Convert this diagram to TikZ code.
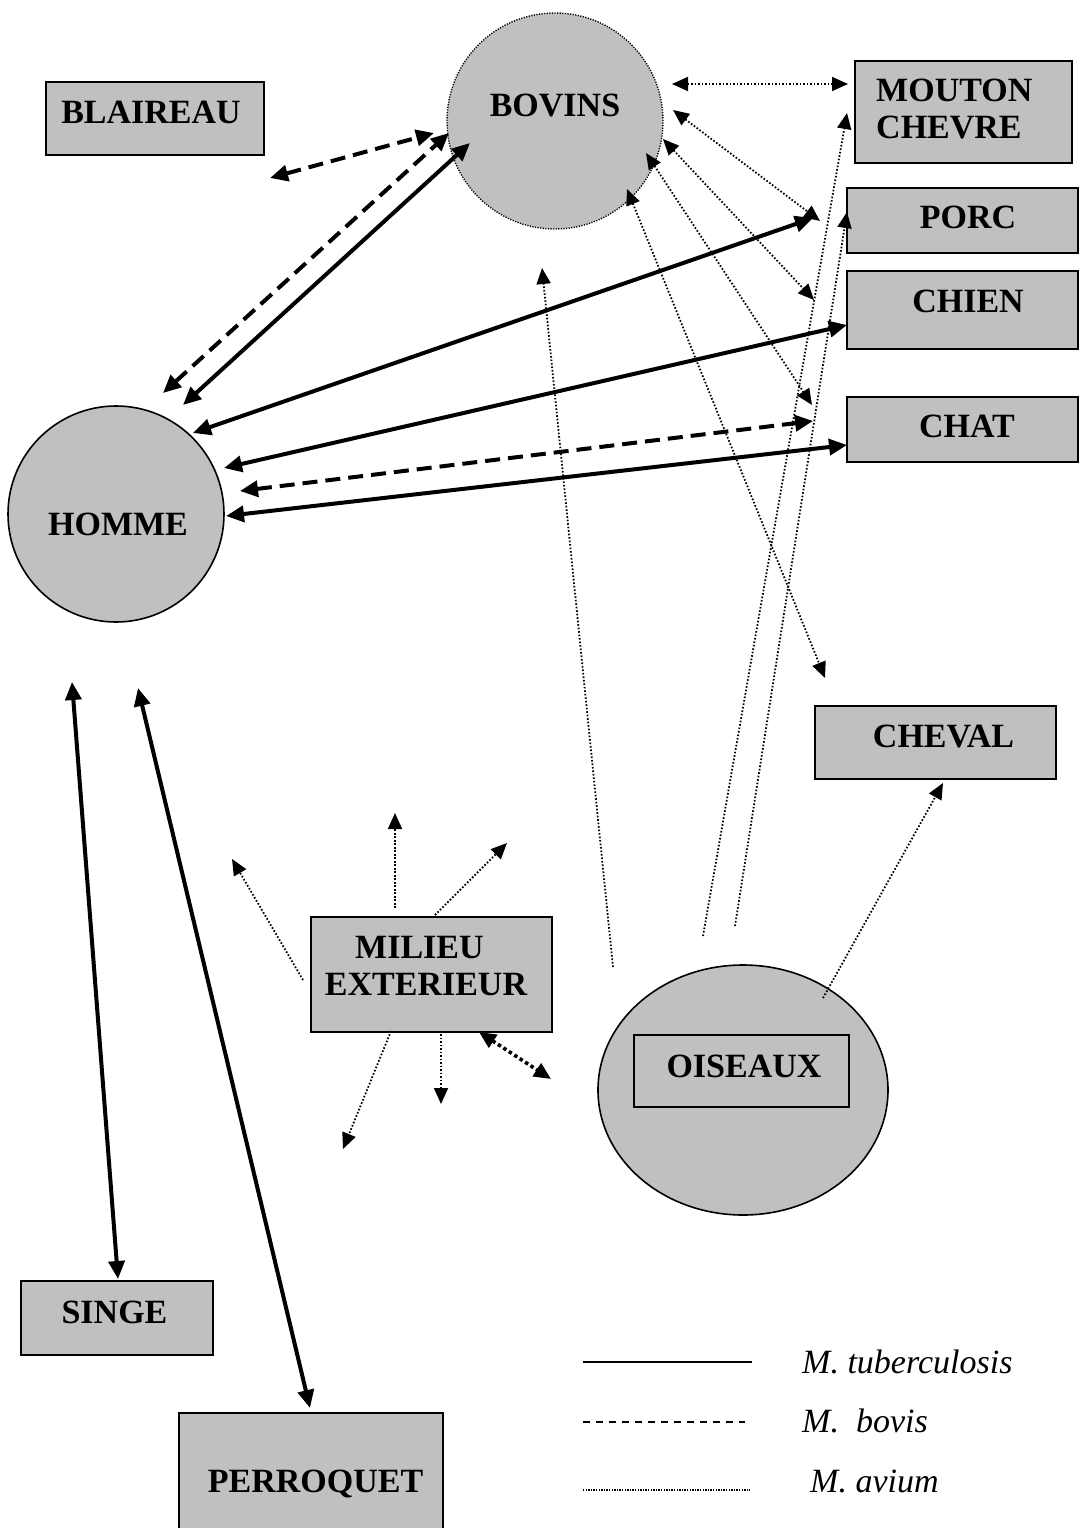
\documentclass[tikz,border=0pt]{standalone}
\usepackage{fontspec}
\setmainfont{Liberation Serif}
\usetikzlibrary{arrows.meta,shapes.geometric}
\definecolor{boxgray}{HTML}{C0C0C0}
\begin{document}
\begin{tikzpicture}[x=1pt,y=-1pt,
  box/.style={draw=black, line width=1.6pt, fill=boxgray, rectangle, inner sep=0pt, outer sep=0pt},
  lbl/.style={font=\fontsize{34}{38}\selectfont\bfseries, inner sep=0pt, anchor=base},
  lgd/.style={font=\fontsize{34}{38}\selectfont\itshape, inner sep=0pt, anchor=base west},
  tuber/.style={line width=4pt, {Triangle[length=18pt,width=16pt]}-{Triangle[length=18pt,width=16pt]}},
  bovis/.style={line width=4pt, dash pattern=on 15pt off 8pt, {Triangle[length=18pt,width=16pt]}-{Triangle[length=18pt,width=16pt]}},
  avium/.style={line width=1.8pt, dash pattern=on 1.6pt off 1.9pt},
  both/.style={{Triangle[length=16pt,width=14pt]}-{Triangle[length=16pt,width=14pt]}},
  fwd/.style={-{Triangle[length=16pt,width=14pt]}},
  thickdot/.style={line width=3.6pt, dash pattern=on 3.5pt off 3pt, {Triangle[length=17pt,width=15pt]}-{Triangle[length=17pt,width=15pt]}}
]
\useasboundingbox (0,0) rectangle (1080,1528);

% ---- nodes ----
\node[box, minimum width=218pt, minimum height=73pt] (blaireau) at (155,118.5) {};
\node[lbl] (blaireauT) at (151,123) {BLAIREAU};

\node[circle, fill=boxgray, draw=black, line width=1.4pt, dash pattern=on 1.2pt off 1.4pt, minimum size=216pt, inner sep=0pt] (bovins) at (555,121) {};
\node[lbl] (bovinsT) at (555,116) {BOVINS};

\node[box, minimum width=217pt, minimum height=102pt] (mouton) at (963.5,112) {};
\node[lbl, anchor=base west] (moutonT1) at (876,101) {MOUTON};
\node[lbl, anchor=base west] (moutonT2) at (876,138) {CHEVRE};

\node[box, minimum width=231pt, minimum height=65pt] (porc) at (962.5,220.5) {};
\node[lbl] (porcT) at (968,228) {PORC};

\node[box, minimum width=231pt, minimum height=78pt] (chien) at (962.5,310) {};
\node[lbl] (chienT) at (968,312) {CHIEN};

\node[box, minimum width=231pt, minimum height=65pt] (chat) at (962.5,429.5) {};
\node[lbl] (chatT) at (967,437) {CHAT};

\node[circle, fill=boxgray, draw=black, line width=1.6pt, minimum size=216pt, inner sep=0pt] (homme) at (116,514) {};
\node[lbl] (hommeT) at (118,535) {HOMME};

\node[box, minimum width=241pt, minimum height=73pt] (cheval) at (935.5,742.5) {};
\node[lbl] (chevalT) at (943.5,747) {CHEVAL};

\node[box, minimum width=241pt, minimum height=115pt] (milieu) at (431.5,974.5) {};
\node[lbl, anchor=base west] (milieuT1) at (355,958) {MILIEU};
\node[lbl] (milieuT2) at (426,995) {EXTERIEUR};

\node[ellipse, fill=boxgray, draw=black, line width=1.6pt, minimum width=290pt, minimum height=250pt, inner sep=0pt] (oiseaux) at (743,1090) {};
\node[box, minimum width=215pt, minimum height=72pt] (oiseauxB) at (741.5,1071) {};
\node[lbl] (oiseauxT) at (744,1077) {OISEAUX};

\node[box, minimum width=192pt, minimum height=74pt] (singe) at (117,1318) {};
\node[lbl] (singeT) at (114.5,1323) {SINGE};

\node[box, minimum width=264pt, minimum height=127pt] (perroquet) at (311,1476.5) {};
\node[lbl] (perroquetT) at (315.5,1492) {PERROQUET};

% ---- connector end points ----
\coordinate (h0) at (163,393);  \coordinate (b3) at (449,133);
\coordinate (h1) at (183,405);  \coordinate (b1) at (470,143);
\coordinate (h2) at (193,433);  \coordinate (p1) at (813,218);
\coordinate (h3) at (224,468);  \coordinate (c1) at (847,325);
\coordinate (h4) at (240,491);  \coordinate (ch2) at (813,421);
\coordinate (h5) at (226,516);  \coordinate (ch1) at (847,445);
\coordinate (h6) at (72,682);   \coordinate (s1) at (118,1279);
\coordinate (h7) at (138,688);  \coordinate (pq1) at (310,1408);
\coordinate (bl1) at (270,178); \coordinate (b2) at (434,133);

\coordinate (b4) at (672,84);   \coordinate (m1) at (848,84);
\coordinate (b5) at (673,110);  \coordinate (p2) at (820,221);
\coordinate (b6) at (663,139);  \coordinate (c2) at (814,300);
\coordinate (b7) at (646,153);  \coordinate (ch3) at (812,405);
\coordinate (b8) at (627,189);  \coordinate (cv1) at (825,678);

\coordinate (o1) at (613,967);  \coordinate (b9) at (542,268);
\coordinate (o2) at (703,936);  \coordinate (m2) at (847,113);
\coordinate (o3) at (735,926);  \coordinate (p3) at (847,212);
\coordinate (o4) at (823,998);  \coordinate (cv2) at (943,783);

\coordinate (me1) at (395,908); \coordinate (e1) at (395,813);
\coordinate (me2) at (435,915); \coordinate (e2) at (507,843);
\coordinate (me3) at (303,980); \coordinate (e3) at (232,859);
\coordinate (me4) at (391,1031);\coordinate (e4) at (343,1149);
\coordinate (me5) at (441,1034);\coordinate (e5) at (441,1104);
\coordinate (me6) at (479,1032);\coordinate (o5) at (551,1079);

% ---- M. tuberculosis ----
\draw[tuber] (h1) -- (b1);
\draw[tuber] (h2) -- (p1);
\draw[tuber] (h3) -- (c1);
\draw[tuber] (h5) -- (ch1);
\draw[tuber] (h6) -- (s1);
\draw[tuber] (h7) -- (pq1);

% ---- M. bovis ----
\draw[bovis] (bl1) -- (b2);
\draw[bovis] (h0) -- (b3);
\draw[bovis] (h4) -- (ch2);

% ---- M. avium ----
\draw[avium, both] (b4) -- (m1);
\draw[avium, both] (b5) -- (p2);
\draw[avium, both] (b6) -- (c2);
\draw[avium, both] (b7) -- (ch3);
\draw[avium, both] (b8) -- (cv1);
\draw[avium, fwd] (o1) -- (b9);
\draw[avium, fwd] (o2) -- (m2);
\draw[avium, fwd] (o3) -- (p3);
\draw[avium, fwd] (o4) -- (cv2);
\draw[avium, fwd] (me1) -- (e1);
\draw[avium, fwd] (me2) -- (e2);
\draw[avium, fwd] (me3) -- (e3);
\draw[avium, fwd] (me4) -- (e4);
\draw[avium, fwd] (me5) -- (e5);
\draw[thickdot] (me6) -- (o5);

% ---- legend ----
\coordinate (l1a) at (583,1362); \coordinate (l1b) at (752,1362);
\coordinate (l2a) at (583,1422); \coordinate (l2b) at (745,1422);
\coordinate (l3a) at (583,1490); \coordinate (l3b) at (750,1490);
\draw[line width=2.2pt] (l1a) -- (l1b);
\draw[line width=1.6pt, dash pattern=on 7pt off 6pt] (l2a) -- (l2b);
\draw[line width=1.5pt, dash pattern=on 1.3pt off 1.3pt] (l3a) -- (l3b);
\node[lgd] (lgd1) at (802,1373) {M. tuberculosis};
\node[lgd] (lgd2) at (802,1432) {M.\ \ bovis};
\node[lgd] (lgd3) at (810,1492) {M. avium};
\end{tikzpicture}
\end{document}
